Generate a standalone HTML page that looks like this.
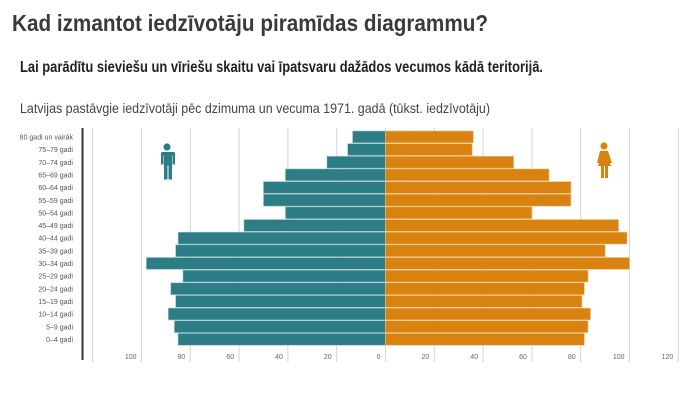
<!DOCTYPE html>
<html><head><meta charset="utf-8"><style>
body{margin:0;width:700px;height:400px;background:#fff;overflow:hidden;font-family:"Liberation Sans Narrow","Liberation Sans",sans-serif}
</style></head><body>
<svg width="700" height="400" xmlns="http://www.w3.org/2000/svg" font-family="Liberation Sans Narrow, Liberation Sans, sans-serif">
<text x="12" y="31" font-size="23" font-weight="bold" fill="#3a3a3a" textLength="476" lengthAdjust="spacingAndGlyphs">Kad izmantot iedzīvotāju piramīdas diagrammu?</text>
<text x="20" y="72" font-size="15.5" font-weight="bold" fill="#222" textLength="523" lengthAdjust="spacingAndGlyphs">Lai parādītu sieviešu un vīriešu skaitu vai īpatsvaru dažādos vecumos kādā teritorijā.</text>
<text x="20" y="113" font-size="14" fill="#444" textLength="470" lengthAdjust="spacingAndGlyphs">Latvijas pastāvgie iedzīvotāji pēc dzimuma un vecuma 1971. gadā (tūkst. iedzīvotāju)</text>
<g id="grid" stroke="#d6d6d6" stroke-width="1"></g>
<g id="bars"></g>
<g id="labels" font-size="7" fill="#555" text-anchor="end"></g>
<line x1="82.5" y1="128" x2="82.5" y2="360" stroke="#333" stroke-width="2"/>
<g fill="#2c7d86">
<circle cx="167" cy="147" r="3.6"/>
<path d="M160.5 152 h13 a1.5 1.5 0 0 1 1.5 1.5 v11 h-2.5 v-9 h-0.5 v24 h-3.5 v-14 h-1 v14 h-3.5 v-24 h-0.5 v9 h-2.5 v-11 a1.5 1.5 0 0 1 1.5 -1.5z"/>
</g>
<g fill="#d8820f">
<circle cx="604" cy="146" r="3.6"/>
<path d="M600 151 h8 l4 12 h-2 l-2.5 -8 l3.5 11 h-3 v12 h-3 v-12 h-1 v12 h-3 v-12 h-3 l3.5 -11 l-2.5 8 h-2z"/>
</g>
</svg>
<script>
const ns="http://www.w3.org/2000/svg";
const z=385.5,s=2.44,top0=131,p=12.65;
const ages=["80 gadi un vairāk","75–79 gadi","70–74 gadi","65–69 gadi","60–64 gadi","55–59 gadi","50–54 gadi","45–49 gadi","40–44 gadi","35–39 gadi","30–34 gadi","25–29 gadi","20–24 gadi","15–19 gadi","10–14 gadi","5–9 gadi","0–4 gadi"];
const m=[13.5,15.5,24,41,50,50,41,58,85,86,98,83,88,86,89,86.5,85];
const f=[36,35.5,52.5,67,76,76,60,95.5,99,90,100,83,81.5,80.5,84,83,81.5];
function el(t,a,par,txt){const e=document.createElementNS(ns,t);for(const k in a)e.setAttribute(k,a[k]);if(txt!==undefined)e.textContent=txt;document.getElementById(par).appendChild(e);}
for(let v=-120;v<=120;v+=20){const x=z+v*s;el("line",{x1:x,y1:128,x2:x,y2:362},"grid");
 if(v>-120){el("text",{x:x-5,y:359,"font-size":7,fill:"#666","text-anchor":"end"},"labels",String(Math.abs(v)));}}
ages.forEach((a,i)=>{const y=top0+i*p;
 el("rect",{x:z-m[i]*s,y:y,width:m[i]*s,height:p-0.8,fill:"#2c7d86",stroke:"#9cc3c7","stroke-width":0.6},"bars");
 el("rect",{x:z,y:y,width:f[i]*s,height:p-0.8,fill:"#d8820f",stroke:"#f0c080","stroke-width":0.6},"bars");
 el("text",{x:73,y:y+8.5},"labels",a);});
</script>
</body></html>
